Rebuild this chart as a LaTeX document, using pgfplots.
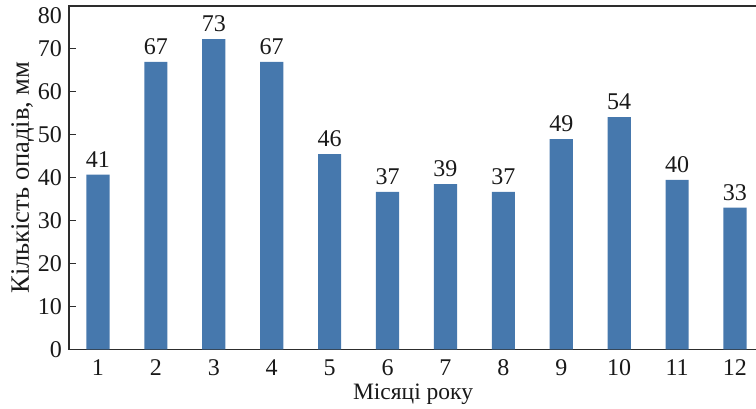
\documentclass[border=0pt]{standalone}
\usepackage{fontspec}
\setmainfont{Liberation Serif}
\usepackage{pgfplots}
\usepackage{pgfplotstable}
\pgfplotsset{compat=1.18}
\definecolor{barblue}{RGB}{70,120,173}
\definecolor{axgray}{RGB}{45,45,45}
\pgfplotstableread{
x y label
1 40.7 41
2 67.0 67
3 72.3 73
4 67.0 67
5 45.5 46
6 36.7 37
7 38.5 39
8 36.7 37
9 49.0 49
10 54.1 54
11 39.5 40
12 33.0 33
}\rain
\begin{document}
\begin{tikzpicture}
\begin{axis}[
  at={(69pt,59.7pt)}, anchor=south west,
  scale only axis, width=688pt, height=343.3pt,
  xmin=0.5, xmax=12.38, ymin=0, ymax=80,
  ytick={0,10,...,70}, xtick={1,...,12},
  extra y ticks={80},
  extra y tick style={yticklabel style={yshift=-9.5pt}},
  ybar, bar width=0.4,
  tick align=inside, ytick pos=left, xtick pos=bottom,
  xtick style={draw=none},
  major tick length=7.5pt,
  ytick style={line width=1pt, axgray},
  axis line style={line width=1.3pt, axgray},
  /pgf/number format/assume math mode=true,
  tick label style={font=\fontsize{24}{28}\selectfont, text=black!90},
  yticklabel style={inner sep=0pt, xshift=-7pt},
  xticklabel style={inner sep=0pt, yshift=-10pt},
  label style={font=\fontsize{23.5}{27}\selectfont, text=black!90},
  xlabel={Місяці року},
  ylabel={Кількість опадів, мм},
  xlabel style={at={(axis description cs:0.5,0)}, anchor=base, yshift=-50pt},
  ylabel style={at={([xshift=-40pt]axis description cs:0,0.5)}, anchor=base, font=\fontsize{26.5}{30}\selectfont},
  nodes near coords, point meta=explicit symbolic,
  every node near coord/.append style={font=\fontsize{24}{28}\selectfont, text=black!90, inner sep=0pt, yshift=7pt},
]
\addplot[fill=barblue, draw=none] table[x=x, y=y, meta=label] {\rain};
\end{axis}
\pgfresetboundingbox
\path (0,0) rectangle (756pt,409pt);
\end{tikzpicture}
\end{document}
